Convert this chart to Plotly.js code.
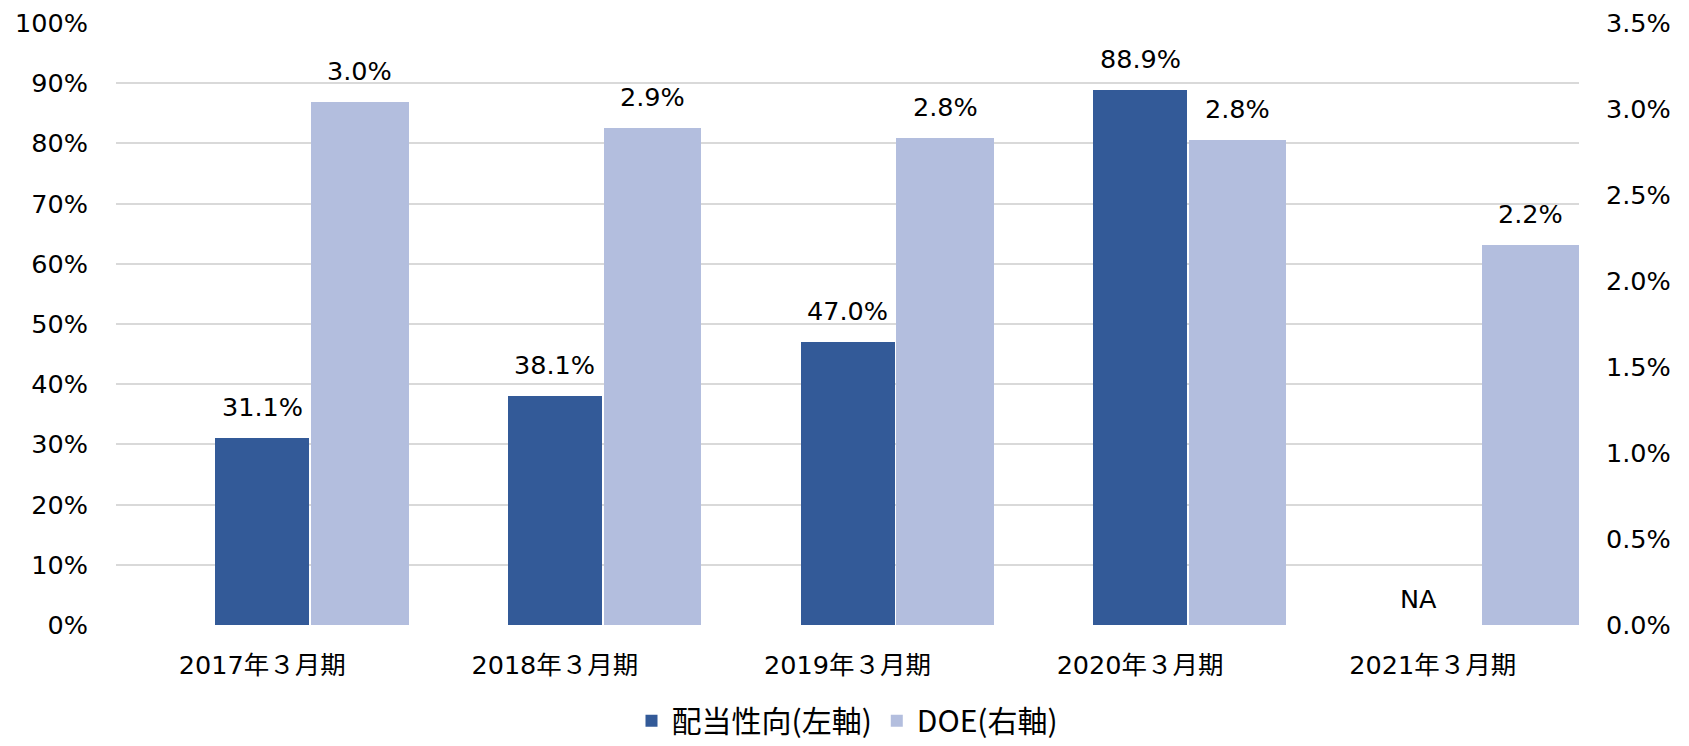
<!DOCTYPE html>
<html>
<head>
<meta charset="utf-8">
<script src="https://cdn.plot.ly/plotly-3.0.1.min.js"></script>
<style>html,body{margin:0;padding:0;background:#fff;}#chart{width:1689px;height:746px;}</style>
</head>
<body>
<div id="chart"></div>
<script>
const categories = ["2017年３月期", "2018年３月期", "2019年３月期", "2020年３月期", "2021年３月期"];
const payoutRatio = [31.1, 38.1, 47.0, 88.9, null];
const payoutLabels = ["31.1%", "38.1%", "47.0%", "88.9%", "NA"];
const doe = [3.04, 2.89, 2.83, 2.82, 2.21];
const doeLabels = ["3.0%", "2.9%", "2.8%", "2.8%", "2.2%"];
const seriesNames = ["配当性向(左軸)", "DOE(右軸)"];
const leftTicks = [0, 10, 20, 30, 40, 50, 60, 70, 80, 90, 100];
const leftTickText = ["0%", "10%", "20%", "30%", "40%", "50%", "60%", "70%", "80%", "90%", "100%"];
const rightTicks = [0, 0.5, 1.0, 1.5, 2.0, 2.5, 3.0, 3.5];
const rightTickText = ["0.0%", "0.5%", "1.0%", "1.5%", "2.0%", "2.5%", "3.0%", "3.5%"];

const FONT = "DejaVu Sans, Verdana, 'Noto Sans CJK JP', sans-serif";
const FS = 25.5;
const DARK = "#335A98";
const LIGHT = "#B3BEDE";

const traces = [
  {
    type: "bar", name: seriesNames[0], x: categories, y: payoutRatio,
    yaxis: "y", marker: {color: DARK}, offset: -0.16, width: 0.321,
    hoverinfo: "skip"
  },
  {
    type: "bar", name: seriesNames[1], x: categories, y: doe,
    yaxis: "y2", marker: {color: LIGHT}, offset: 0.167, width: 0.333,
    hoverinfo: "skip"
  }
];

const annotations = [];
categories.forEach((c, i) => {
  const v = payoutRatio[i];
  annotations.push({
    x: i, y: v === null ? 0 : v, xref: "x", yref: "y",
    text: payoutLabels[i], showarrow: false,
    xshift: v === null ? -14 : 0, yshift: v === null ? 26 : 31,
    yanchor: "middle", font: {family: FONT, size: FS, color: "#000"}
  });
  annotations.push({
    x: i + 0.3335, y: doe[i], xref: "x", yref: "y2",
    text: doeLabels[i], showarrow: false, yshift: 31,
    yanchor: "middle", font: {family: FONT, size: FS, color: "#000"}
  });
});

const layout = {
  width: 1689, height: 746,
  margin: {l: 116, r: 110, t: 23, b: 121, pad: 0, autoexpand: false},
  paper_bgcolor: "#fff", plot_bgcolor: "#fff",
  font: {family: FONT, size: FS, color: "#000"},
  showlegend: true,
  legend: {
    orientation: "h", x: 0.5, xanchor: "center",
    yref: "container", y: 0.034, yanchor: "middle",
    font: {family: "'Noto Sans CJK JP', DejaVu Sans, sans-serif", size: 30, color: "#000"},
    traceorder: "normal", itemsizing: "constant"
  },
  xaxis: {
    type: "category", showgrid: false, zeroline: false, showline: false,
    ticks: "", ticklabelstandoff: 22, range: [-0.5, 4.5], automargin: false,
    tickfont: {family: FONT, size: FS, color: "#000"}
  },
  yaxis: {
    range: [0, 100], tickmode: "array", tickvals: leftTicks, ticktext: leftTickText,
    showgrid: true, gridcolor: "#D9D9D9", gridwidth: 2, automargin: false,
    zeroline: false, showline: false, ticks: "", ticklabelstandoff: 27,
    tickfont: {family: FONT, size: FS, color: "#000"}
  },
  yaxis2: {
    overlaying: "y", side: "right", range: [0, 3.5], tickmode: "array",
    tickvals: rightTicks, ticktext: rightTickText, showgrid: false, zeroline: false,
    showline: false, ticks: "", ticklabelstandoff: 26, automargin: false,
    tickfont: {family: FONT, size: FS, color: "#000"}
  },
  annotations: annotations,
  bargap: 0
};

Plotly.newPlot("chart", traces, layout, {displayModeBar: false, staticPlot: true});
</script>
</body>
</html>
